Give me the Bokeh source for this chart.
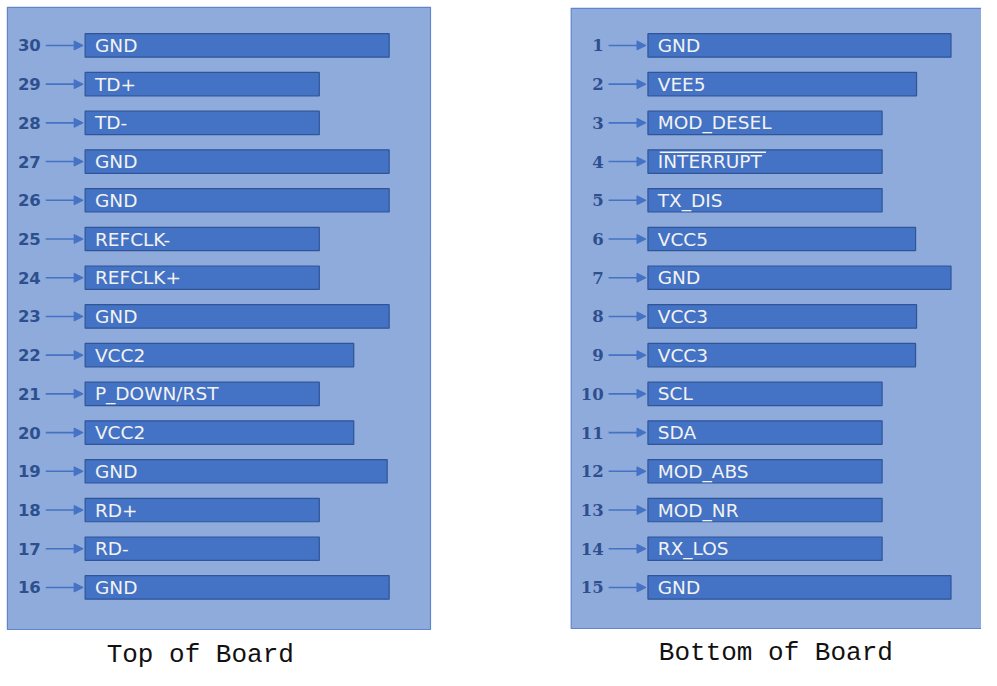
from bokeh.plotting import figure
from bokeh.models import Range1d, ColumnDataSource, Arrow, NormalHead, Label
from bokeh.core.properties import value
from bokeh.embed import file_html
from bokeh.resources import INLINE

# ---- data ----
left_pins = [30, 29, 28, 27, 26, 25, 24, 23, 22, 21, 20, 19, 18, 17, 16]
left_names = ["GND", "TD+", "TD-", "GND", "GND", "REFCLK-", "REFCLK+", "GND",
              "VCC2", "P_DOWN/RST", "VCC2", "GND", "RD+", "RD-", "GND"]
left_len = [309, 238, 238, 309, 309, 238, 238, 309, 273, 238, 273, 307, 238, 238, 309]

right_pins = [1, 2, 3, 4, 5, 6, 7, 8, 9, 10, 11, 12, 13, 14, 15]
right_names = ["GND", "VEE5", "MOD_DESEL", "INTERRUPT", "TX_DIS", "VCC5", "GND",
               "VCC3", "VCC3", "SCL", "SDA", "MOD_ABS", "MOD_NR", "RX_LOS", "GND"]
right_len = [308, 273, 238, 238, 238, 272, 308, 273, 272, 238, 238, 238, 238, 238, 308]

titles = ["Top of Board", "Bottom of Board"]

W, H = 981, 670
p = figure(width=W, height=H, output_backend="svg", toolbar_location=None,
           x_range=Range1d(0, 997), y_range=Range1d(686, 0),
           min_border=0, outline_line_color=None)
p.axis.visible = False
p.grid.visible = False
p.background_fill_color = "white"
p.border_fill_color = "white"

PANEL_FILL = "#8EABDC"
PANEL_LINE = "#5F86CC"
BAR_FILL = "#4472C4"
BAR_LINE = "#2F5597"
NUM_COLOR = "#2E4F8E"

row_y0, row_step, bar_h = 46, 39.64, 24


def panel(x0, x1, y0, y1, bar_x0, pins, names, lens, num_x, arrow_x0, num_font, title, title_x, title_y):
    p.quad(left=[x0], right=[x1], top=[y0], bottom=[y1],
           fill_color=PANEL_FILL, line_color=PANEL_LINE, line_width=1.2)
    ys = [row_y0 + i * row_step for i in range(len(pins))]
    src = ColumnDataSource(dict(
        y=ys,
        left=[bar_x0] * len(pins),
        right=[bar_x0 + L for L in lens],
        top=[y - bar_h / 2 for y in ys],
        bottom=[y + bar_h / 2 for y in ys],
        name=names,
        tx=[bar_x0 + 10] * len(pins),
        pin=[str(n) for n in pins],
        nx=[num_x] * len(pins),
        ax0=[arrow_x0] * len(pins),
        ax1=[bar_x0 - 2] * len(pins),
    ))
    p.quad(left="left", right="right", top="top", bottom="bottom", source=src,
           fill_color=BAR_FILL, line_color=BAR_LINE, line_width=1.2)
    p.text(x="tx", y="y", text="name", source=src, text_color="#F2F2F2",
           text_font=value("DejaVu Sans"), text_font_size="18.5px",
           text_baseline="middle", text_align="left")
    p.text(x="nx", y="y", text="pin", source=src, text_color=NUM_COLOR,
           text_font=value(num_font), text_font_size="16.5px", text_font_style="bold",
           text_baseline="middle", text_align="right")
    p.add_layout(Arrow(x_start="ax0", y_start="y", x_end="ax1", y_end="y", source=src,
                       line_color=BAR_FILL, line_width=1.6,
                       end=NormalHead(size=9, fill_color=BAR_FILL, line_color=BAR_FILL)))
    p.add_layout(Label(x=title_x, y=title_y, text=title, text_font="Liberation Mono",
                       text_font_size="26px", text_color="#111111",
                       text_align="center", text_baseline="middle"))
    return src, ys


panel(7, 437, 7, 644, 86, left_pins, left_names, left_len, 41, 46, "DejaVu Sans",
      titles[0], 203, 670)
rsrc, rys = panel(580, 1000, 8, 643, 658, right_pins, right_names, right_len, 613, 618,
                  "DejaVu Serif", titles[1], 788, 668)

# overline for INTERRUPT (active-low)
i = right_names.index("INTERRUPT")
p.segment(x0=[670], x1=[778], y0=[rys[i] - 9.5], y1=[rys[i] - 9.5],
          line_color="#F2F2F2", line_width=1.5)

open("out.html", "w").write(file_html(p, INLINE))
